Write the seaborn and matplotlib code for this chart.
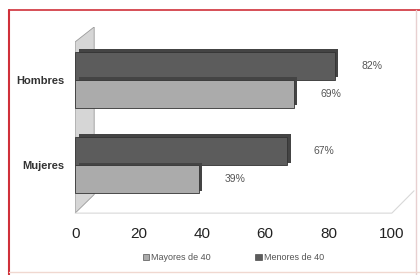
import matplotlib
matplotlib.use("Agg")
import matplotlib.pyplot as plt
import matplotlib.patheffects as pe
from matplotlib.patches import Polygon, Rectangle, Patch
import seaborn as sns
import pandas as pd

categories = ["Hombres", "Mujeres"]
series_names = ["Menores de 40", "Mayores de 40"]
menores = [82, 67]
mayores = [69, 39]
x_ticks = [0, 20, 40, 60, 80, 100]

df = pd.DataFrame({
    "cat": categories * 2,
    "serie": [series_names[0]] * 2 + [series_names[1]] * 2,
    "valor": menores + mayores,
})

sns.set_theme(style="white")
plt.rcParams["font.family"] = ["Liberation Sans", "DejaVu Sans"]

fig = plt.figure(figsize=(4.2, 2.75), dpi=100)
fig.patch.set_facecolor("white")
ax = fig.add_axes([0.179, 0.225, 0.754, 0.677])
ax.set_facecolor("none")

# back wall decoration
wall = Polygon([(0.0, 0.0), (0.0, 0.92), (0.06, 1.0), (0.06, 0.1)], closed=True,
               transform=ax.transAxes, facecolor="#d6d6d6", edgecolor="#9a9a9a",
               lw=0.6, zorder=0)
ax.add_patch(wall)
ax.plot([0.0, 1.0, 1.07], [0.0, 0.0, 0.12], transform=ax.transAxes,
        color="#d8d8d8", lw=0.8, zorder=0, clip_on=False)

palette = {"Menores de 40": "#5c5c5c", "Mayores de 40": "#ababab"}
sns.barplot(data=df, y="cat", x="valor", hue="serie", order=categories,
            hue_order=series_names, palette=palette, orient="h", width=0.66,
            edgecolor="#333333", linewidth=0.6, legend=False, ax=ax,
            saturation=1)

for p in ax.patches:
    if isinstance(p, Rectangle) and p.get_width() > 0 and p.get_height() < 1:
        p.set_path_effects([pe.SimplePatchShadow(offset=(2.5, 2), shadow_rgbFace="#444444", alpha=1.0),
                            pe.Normal()])

for cont in ax.containers:
    ax.bar_label(cont, labels=[f"{v:g}%" for v in cont.datavalues], padding=19,
                 fontsize=7.5, color="#555555")

ax.set_xlim(0, 100)
ax.set_ylim(1.56, -0.62)
ax.set_xticks(x_ticks)
ax.set_xticklabels([str(t) for t in x_ticks], fontsize=11, color="#222222")
ax.tick_params(axis="x", length=0, pad=10)
ax.tick_params(axis="y", length=0, pad=8)
for lab in ax.get_yticklabels():
    lab.set_fontweight("bold")
    lab.set_fontsize(8)
    lab.set_color("#333333")
ax.set_xlabel("")
ax.set_ylabel("")
for s in ax.spines.values():
    s.set_visible(False)

handles = [Patch(facecolor=palette["Mayores de 40"], edgecolor="#333333", lw=0.4),
           Patch(facecolor=palette["Menores de 40"], edgecolor="#333333", lw=0.4)]
fig.legend(handles, ["Mayores de 40", "Menores de 40"], loc="center",
           bbox_to_anchor=(0.555, 0.062), ncol=2, frameon=False, fontsize=6.5,
           handlelength=0.7, handleheight=0.7, handletextpad=0.2, columnspacing=5,
           labelcolor="#555555")

# frame border
fig.add_artist(plt.Line2D([0.021, 0.021], [0.0, 0.965], transform=fig.transFigure,
                          color="#d0303a", lw=1.5))
fig.add_artist(plt.Line2D([0.021, 1.0], [0.965, 0.965], transform=fig.transFigure,
                          color="#d0303a", lw=1.2))
fig.add_artist(plt.Line2D([0.99, 0.99], [0.0, 0.965], transform=fig.transFigure,
                          color="#e8d0d0", lw=1.0))
fig.add_artist(plt.Line2D([0.021, 1.0], [0.01, 0.01], transform=fig.transFigure,
                          color="#f0d8d0", lw=1.0))

fig.savefig("out.png", dpi=100)
